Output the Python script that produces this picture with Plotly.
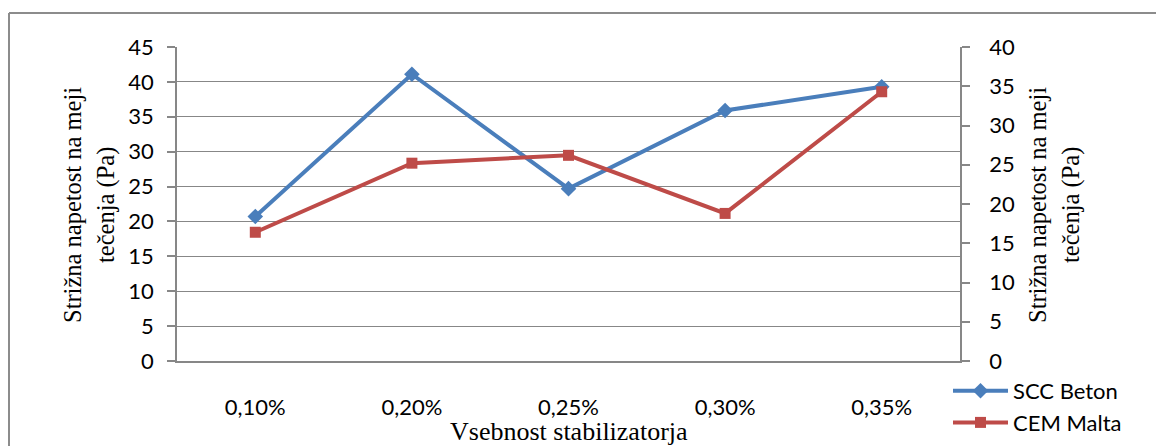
import plotly.graph_objects as go

categories = ["0,10%", "0,20%", "0,25%", "0,30%", "0,35%"]
scc_beton = [20.7, 41.1, 24.7, 35.9, 39.3]      # left axis (Pa)
cem_malta = [16.4, 25.2, 26.2, 18.8, 34.3]      # right axis (Pa)
left_ticks = list(range(0, 46, 5))
right_ticks = list(range(0, 41, 5))
y_title_lines = ["Strižna napetost na meji", "tečenja (Pa)"]
x_title = "Vsebnost stabilizatorja"

W, H = 1156, 446
L, R, T, B = 177, 960, 47, 361
pw, ph = R - L, B - T

def px(x):
    return (x - L) / pw

def py(y):
    return (B - y) / ph

BLUE = "#4A7EBB"
RED = "#BE4B48"
GRID = "#878787"
SANS = "Lato"
SERIF = "Liberation Serif, Times New Roman, serif"
FS = 22

fig = go.Figure()
fig.add_trace(go.Scatter(
    x=categories, y=scc_beton, name="SCC Beton", mode="lines+markers",
    line=dict(color=BLUE, width=4),
    marker=dict(symbol="diamond", size=12, color=BLUE),
    yaxis="y", cliponaxis=False, legendgroup="a"))
fig.add_trace(go.Scatter(
    x=categories, y=cem_malta, name="CEM Malta", mode="lines+markers",
    line=dict(color=RED, width=4),
    marker=dict(symbol="square", size=11, color=RED),
    yaxis="y2", cliponaxis=False, legendgroup="b"))

annotations = []
for xc, line in zip([72, 106], y_title_lines):
    annotations.append(dict(text=line, x=px(xc), y=py(205), xref="paper", yref="paper",
                            textangle=-90, showarrow=False,
                            font=dict(family=SERIF, size=24.5, color="black"),
                            xanchor="center", yanchor="middle"))
for xc, line in zip([1037, 1071], y_title_lines):
    annotations.append(dict(text=line, x=px(xc), y=py(205), xref="paper", yref="paper",
                            textangle=-90, showarrow=False,
                            font=dict(family=SERIF, size=24.5, color="black"),
                            xanchor="center", yanchor="middle"))
annotations.append(dict(text=x_title, x=0.5, y=py(431), xref="paper", yref="paper",
                        showarrow=False, font=dict(family=SERIF, size=26, color="black"),
                        xanchor="center", yanchor="middle"))

fig.update_layout(
    width=W, height=H,
    margin=dict(l=L, r=W - R, t=T, b=H - B, pad=0, autoexpand=False),
    paper_bgcolor="white", plot_bgcolor="white",
    font=dict(family=SANS, size=FS, color="black"),
    xaxis=dict(
        type="category", range=[-0.5, 4.5], showgrid=False,
        showline=True, linecolor=GRID, linewidth=1.5,
        ticks="", ticklabelstandoff=26, tickfont=dict(family=SANS, size=FS),
        zeroline=False, automargin=False),
    yaxis=dict(
        range=[0, 45], tickvals=left_ticks, showgrid=True, gridcolor=GRID, gridwidth=1,
        showline=True, linecolor=GRID, linewidth=1.5,
        ticks="outside", ticklen=8, tickcolor=GRID, tickwidth=1.5,
        ticklabelstandoff=9, tickfont=dict(family=SANS, size=FS), zeroline=False,
        automargin=False),
    yaxis2=dict(
        range=[0, 40], tickvals=right_ticks, overlaying="y", side="right",
        showgrid=False, showline=True, linecolor=GRID, linewidth=1.5,
        ticks="outside", ticklen=8, tickcolor=GRID, tickwidth=1.5,
        ticklabelstandoff=15, tickfont=dict(family=SANS, size=FS), zeroline=False,
        automargin=False),
    showlegend=True,
    legend=dict(
        x=px(948), y=py(370), xanchor="left", yanchor="top",
        font=dict(family=SANS, size=FS), bgcolor="rgba(0,0,0,0)",
        itemwidth=55, tracegroupgap=0),
    annotations=annotations,
    shapes=[
        dict(type="line", xref="paper", yref="paper", x0=px(9), x1=px(9),
             y0=py(13), y1=py(460), line=dict(color="#8c8c8c", width=2)),
        dict(type="line", xref="paper", yref="paper", x0=px(9), x1=px(1170),
             y0=py(13), y1=py(13), line=dict(color="#8c8c8c", width=2)),
    ],
)

fig.write_html("out.html")
